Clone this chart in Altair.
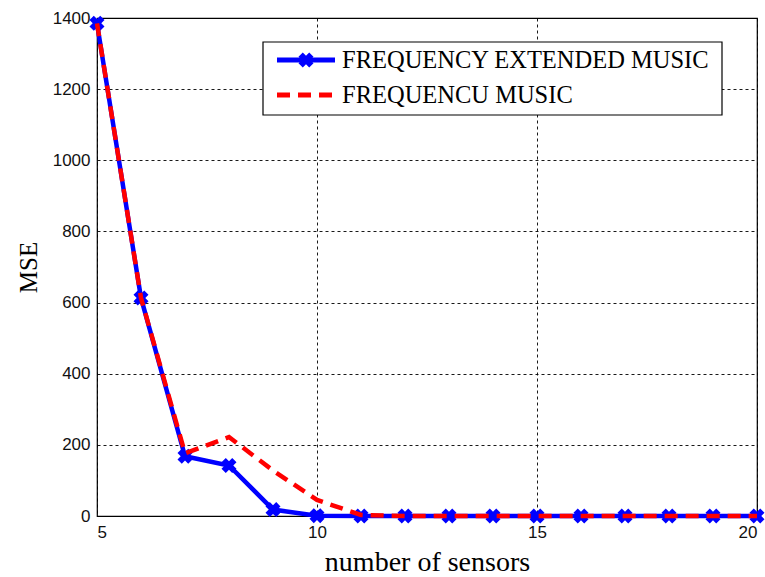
import altair as alt
import pandas as pd

sensors = [5, 6, 7, 8, 9, 10, 11, 12, 13, 14, 15, 16, 17, 18, 19, 20]
mse_extended = [1385, 613, 168, 142, 18, 1, 0, 0, 0, 0, 0, 0, 0, 0, 0, 0]
mse_music = [1385, 613, 176, 222, 128, 45, 3, 0, 0, 0, 0, 0, 0, 0, 0, 0]
y_ticks = [0, 200, 400, 600, 800, 1000, 1200, 1400]
x_ticks = [5, 10, 15, 20]
series_names = ["FREQUENCY EXTENDED MUSIC", "FREQUENCU MUSIC"]

df_ext = pd.DataFrame({"sensors": sensors, "mse": mse_extended})
df_mus = pd.DataFrame({"sensors": sensors, "mse": mse_music})

W, H = 660, 498
xscale = alt.Scale(domain=[5, 20], nice=False, zero=False)
yscale = alt.Scale(domain=[0, 1400], nice=False)

xenc = alt.X("sensors:Q", scale=xscale, title="number of sensors",
             axis=alt.Axis(values=x_ticks, format="d", grid=True, ticks=False,
                           domain=False, labelFont="Liberation Sans", labelFontSize=17,
                           labelColor="#111", labelPadding=8, titleFont="Liberation Serif",
                           titleFontSize=28, titleFontWeight="normal", titleColor="black",
                           titlePadding=8, gridColor="black", gridDash=[3, 3],
                           gridWidth=1, gridOpacity=0.9))
yenc = alt.Y("mse:Q", scale=yscale, title="MSE",
             axis=alt.Axis(values=y_ticks, format="d", grid=True, ticks=False,
                           domain=False, labelFont="Liberation Sans", labelFontSize=17,
                           labelColor="#111", labelPadding=7, titleFont="Liberation Serif",
                           titleFontSize=25, titleFontWeight="normal", titleColor="black",
                           titlePadding=11, gridColor="black", gridDash=[3, 3],
                           gridWidth=1, gridOpacity=0.9))

blue_line = alt.Chart(df_ext).mark_line(color="#0000ff", strokeWidth=4.5).encode(x=xenc, y=yenc)
blue_pts = alt.Chart(df_ext).mark_point(shape="cross", angle=45, filled=True, color="#0000ff",
                                         size=230, opacity=1).encode(x=xenc, y=yenc)
red_line = alt.Chart(df_mus).mark_line(color="#ff0000", strokeWidth=4.5,
                                        strokeDash=[13, 8]).encode(x=xenc, y=yenc)

# legend (custom)
leg_df = pd.DataFrame({"name": series_names})
box = alt.Chart(leg_df.head(1)).mark_rect(fill="white", stroke="black", strokeWidth=1.2).encode(
    x=alt.value(166), x2=alt.value(625), y=alt.value(24), y2=alt.value(97))
leg_blue = alt.Chart(leg_df.head(1)).mark_rule(color="#0000ff", strokeWidth=5).encode(
    x=alt.value(180), x2=alt.value(238), y=alt.value(42))
leg_blue_pt = alt.Chart(leg_df.head(1)).mark_point(shape="cross", angle=45, filled=True,
                                                   color="#0000ff", size=230, opacity=1).encode(
    x=alt.value(209), y=alt.value(42))
leg_red = alt.Chart(leg_df.head(1)).mark_rule(color="#ff0000", strokeWidth=5,
                                              strokeDash=[13, 8]).encode(
    x=alt.value(180), x2=alt.value(238), y=alt.value(77))
leg_text1 = alt.Chart(leg_df.iloc[[0]]).mark_text(align="left", baseline="middle",
                                                  font="Liberation Serif", fontSize=24.5,
                                                  color="black").encode(
    x=alt.value(245), y=alt.value(43), text="name:N")
leg_text2 = alt.Chart(leg_df.iloc[[1]]).mark_text(align="left", baseline="middle",
                                                  font="Liberation Serif", fontSize=24.5,
                                                  color="black").encode(
    x=alt.value(245), y=alt.value(78), text="name:N")

chart = alt.layer(blue_line, blue_pts, red_line, box, leg_blue, leg_blue_pt, leg_red,
                  leg_text1, leg_text2).properties(
    width=W, height=H,
    padding={"left": 97, "top": 18, "right": 8, "bottom": 61},
    autosize=alt.AutoSizeParams(type="none"),
    background="white",
).configure_view(stroke="black", strokeWidth=1.2)

chart.save("out.html", embed_options={"renderer": "svg", "actions": False})
